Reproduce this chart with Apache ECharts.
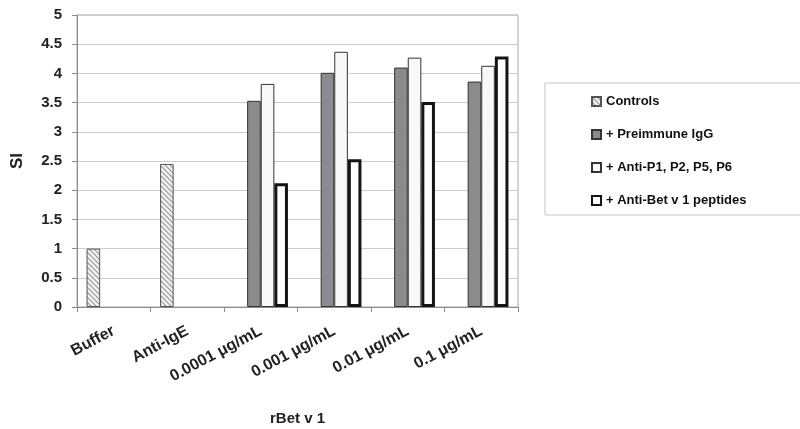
<!DOCTYPE html>
<html>
<head>
<meta charset="utf-8">
<script src="https://cdn.jsdelivr.net/npm/echarts@6/dist/echarts.min.js"></script>
<style>
  html, body { margin: 0; padding: 0; background: #ffffff; }
  #chart { width: 800px; height: 429px; }
</style>
</head>
<body>
<div id="chart"></div>
<script>
// categories on the x axis
const categories = ['Buffer', 'Anti-IgE', '0.0001 μg/mL', '0.001 μg/mL', '0.01 μg/mL', '0.1 μg/mL'];
const yTicks = [0, 0.5, 1, 1.5, 2, 2.5, 3, 3.5, 4, 4.5, 5];

// SI values
const controls   = [1.0, 2.45, null, null, null, null];
const preimmune  = [null, null, 3.53, 4.01, 4.10, 3.86];
const antiP      = [null, null, 3.82, 4.37, 4.27, 4.13];
const antiBet    = [null, null, 2.12, 2.53, 3.51, 4.29];

// hatched fill for the controls bars
function makeHatch() {
  const c = document.createElement('canvas');
  c.width = 5; c.height = 5;
  const ctx = c.getContext('2d');
  ctx.fillStyle = '#f2f2f2';
  ctx.fillRect(0, 0, 5, 5);
  ctx.strokeStyle = '#9a9a9a';
  ctx.lineWidth = 1.2;
  for (let o = -5; o <= 5; o += 5) {
    ctx.beginPath();
    ctx.moveTo(o - 1, -1);
    ctx.lineTo(o + 6, 6);
    ctx.stroke();
  }
  return c;
}

const chart = echarts.init(document.getElementById('chart'));
const font = 'Liberation Sans, Arial, sans-serif';

chart.setOption({
  animation: false,
  backgroundColor: '#ffffff',
  textStyle: { fontFamily: font, color: '#000' },
  grid: {
    left: 77, right: 282, top: 15, bottom: 122,
    containLabel: false, outerBoundsMode: 'none',
    show: true, borderColor: '#a8a8a8', borderWidth: 1
  },
  legend: {
    orient: 'vertical',
    left: 545, top: 83,
    padding: [12, 70, 8, 46],
    itemGap: 20,
    itemWidth: 9, itemHeight: 9,
    icon: 'rect',
    backgroundColor: '#fff',
    borderColor: '#c4c4c4', borderWidth: 1,
    textStyle: { fontFamily: font, fontWeight: 'bold', fontSize: 13, color: '#111' },
    data: ['Controls', '+ Preimmune IgG', '+ Anti-P1, P2, P5, P6', '+ Anti-Bet v 1 peptides']
  },
  xAxis: {
    type: 'category',
    data: categories,
    name: 'rBet v 1',
    nameLocation: 'middle',
    nameGap: 104,
    nameTextStyle: { fontFamily: font, fontWeight: 'bold', fontSize: 15, color: '#222' },
    axisLine: { lineStyle: { color: '#8c8c8c', width: 1 } },
    axisTick: { show: true, length: 5, lineStyle: { color: '#8c8c8c' } },
    axisLabel: {
      rotate: 28, margin: 23, interval: 0,
      fontFamily: font, fontWeight: 'bold', fontSize: 16, color: '#222'
    }
  },
  yAxis: {
    type: 'value',
    min: yTicks[0], max: yTicks[yTicks.length - 1], interval: 0.5,
    name: 'SI',
    nameLocation: 'middle',
    nameGap: 51,
    nameTextStyle: { fontFamily: font, fontWeight: 'bold', fontSize: 17, color: '#222' },
    axisLine: { show: true, lineStyle: { color: '#8c8c8c', width: 1 } },
    axisTick: { show: true, length: 5, lineStyle: { color: '#8c8c8c' } },
    axisLabel: {
      margin: 15,
      fontFamily: font, fontWeight: 'bold', fontSize: 15, color: '#222'
    },
    splitLine: { lineStyle: { color: '#cccccc', width: 1 } }
  },
  series: [
    {
      name: 'Controls', type: 'bar', data: controls,
      barGap: '0%', barCategoryGap: '26%',
      itemStyle: { color: { image: makeHatch(), repeat: 'repeat' }, borderColor: '#555', borderWidth: 1 }
    },
    {
      name: '+ Preimmune IgG', type: 'bar', data: preimmune,
      itemStyle: { color: '#8b8b8f', borderColor: '#333', borderWidth: 1 }
    },
    {
      name: '+ Anti-P1, P2, P5, P6', type: 'bar', data: antiP,
      itemStyle: { color: '#f8f8f8', borderColor: '#333', borderWidth: 1 }
    },
    {
      name: '+ Anti-Bet v 1 peptides', type: 'bar', data: antiBet,
      itemStyle: { color: '#ffffff', borderColor: '#141414', borderWidth: 3 }
    }
  ]
});
</script>
</body>
</html>
